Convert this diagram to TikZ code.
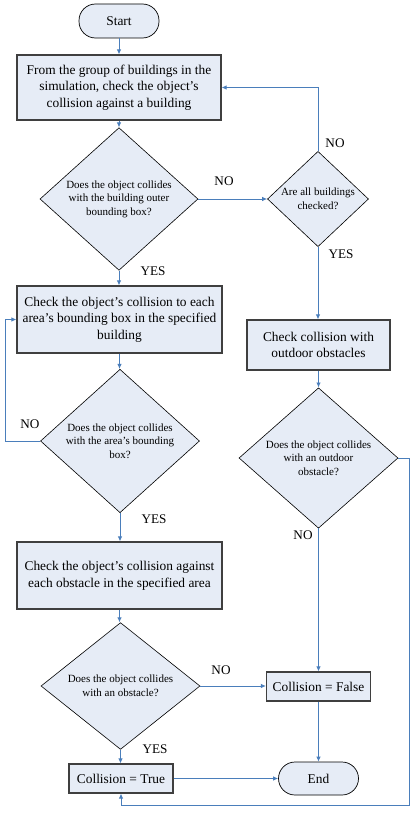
\documentclass[tikz,border=0pt]{standalone}
\usepackage{fontspec}
\setmainfont{Liberation Serif}
\usetikzlibrary{shapes.geometric,arrows.meta}
\definecolor{boxfill}{HTML}{E6ECF6}
\definecolor{arrowblue}{HTML}{4A7EBB}
\definecolor{boxline}{HTML}{3F3F3F}
\begin{document}
\begin{tikzpicture}[x=1pt,y=-1pt,
  procbox/.style={draw=boxline,line width=1.2pt,fill=boxfill,rectangle,inner sep=0pt,align=center,font=\fontsize{13.4}{16.7}\selectfont},
  termbox/.style={draw=black,line width=0.7pt,fill=boxfill,rectangle,rounded corners=16.5pt,inner sep=0pt,align=center,font=\fontsize{13.4}{16.7}\selectfont},
  decision/.style={draw=black,line width=0.6pt,fill=boxfill,diamond,inner sep=0pt,aspect=1,align=center,font=\fontsize{11}{13.6}\selectfont},
  flow/.style={draw=arrowblue,line width=0.9pt,-{Latex[length=5pt,width=4.5pt]}},
  lbl/.style={font=\fontsize{13.2}{15}\selectfont,inner sep=0pt}
]
\useasboundingbox (0,0) rectangle (415,816);
\fill[white] (0,0) rectangle (415,816);

\node[termbox,minimum width=80pt,minimum height=34pt] (start) at (119,21) {Start};
\node[procbox,minimum width=204pt,minimum height=65pt] (b1) at (119,87.5)
  {From the group of buildings in the\\simulation, check the object’s\\collision against a building};
\node[decision,minimum width=158pt,minimum height=123pt] (d1) at (119,199)
  {Does the object collides\\with the building outer\\bounding box?};
\node[decision,minimum width=101pt,minimum height=89pt] (d2) at (318,199)
  {Are all buildings\\checked?};
\node[procbox,minimum width=205pt,minimum height=67pt] (b2) at (119.5,319.5)
  {Check the object’s collision to each\\area’s bounding box in the specified\\building};
\node[procbox,minimum width=143pt,minimum height=50pt] (b3) at (318.5,345)
  {Check collision with\\outdoor obstacles};
\node[decision,minimum width=159pt,minimum height=122pt] (d3) at (120,441)
  {Does the object collides\\with the area’s bounding\\box?};
\node[decision,minimum width=159pt,minimum height=122pt] (d4) at (318.5,458)
  {Does the object collides\\with an outdoor\\obstacle?};
\node[procbox,minimum width=205pt,minimum height=67pt] (b4) at (119.5,575.5)
  {Check the object’s collision against\\each obstacle in the specified area};
\node[decision,minimum width=159pt,minimum height=122pt] (d5) at (120.5,686)
  {Does the object collides\\with an obstacle?};
\node[procbox,minimum width=104pt,minimum height=29pt] (cf) at (318.5,686.5) {Collision = False};
\node[procbox,minimum width=104pt,minimum height=29pt] (ct) at (121,778.5) {Collision = True};
\node[termbox,minimum width=80pt,minimum height=33pt] (end) at (318.5,778.5) {End};

\coordinate (lx) at (5,0);
\coordinate (rx) at (409,805);

\draw[flow] (start.south) -- (b1.north);
\draw[flow] (b1.south) -- (b1.south |- d1.north);
\draw[flow] (d1.east) -- (d2.west);
\draw[flow] (d2.north) |- (b1.east);
\draw[flow] (d1.south) -- (d1.south |- b2.north);
\draw[flow] (d2.south) -- (d2.south |- b3.north);
\draw[flow] (b2.south) -- (b2.south |- d3.north);
\draw[flow] (d3.west) -- (lx |- d3.west) |- (b2.west);
\draw[flow] (d3.south) -- (d3.south |- b4.north);
\draw[flow] (b3.south) -- (b3.south |- d4.north);
\draw[flow] (d4.south) -- (d4.south |- cf.north);
\draw[flow] (b4.south) -- (b4.south |- d5.north);
\draw[flow] (d5.east) -- (d5.east -| cf.west);
\draw[flow] (d5.south) -- (d5.south |- ct.north);
\draw[flow] (ct.east) -- (ct.east -| end.west);
\draw[flow] (cf.south) -- (cf.south |- end.north);
\draw[flow] (d4.east) -| (rx) -| (ct.south);

\node[lbl] (n1) at (224,181) {NO};
\node[lbl] (n2) at (335,143) {NO};
\node[lbl] (y1) at (153,271) {YES};
\node[lbl] (y2) at (341,254) {YES};
\node[lbl] (n3) at (30,424) {NO};
\node[lbl] (y3) at (154,519) {YES};
\node[lbl] (n4) at (303,535) {NO};
\node[lbl] (n5) at (221,670) {NO};
\node[lbl] (y4) at (155,749) {YES};
\end{tikzpicture}
\end{document}
